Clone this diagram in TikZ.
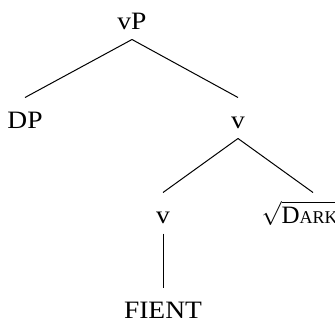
\documentclass[tikz,border=0pt]{standalone}
\usepackage{fontspec}
\setmainfont{Liberation Serif}[FakeStretch=1.1]
\newfontfamily\plainserif{Liberation Serif}
\usepackage{amssymb}

\begin{document}
\begin{tikzpicture}[x=0.5pt, y=-0.5pt, line width=0.5pt,
  every node/.style={font=\fontsize{12.5}{15}\selectfont, text height=12pt, text depth=2pt, inner sep=3pt}]
  \useasboundingbox (0,0) rectangle (335,321);
  \node[anchor=base] (vP) at (132,29) {vP};
  \node[anchor=base] (DP) at (25,128) {DP};
  \node[anchor=base] (v) at (238,128) {v};
  \node[anchor=base] (vlow) at (163,223) {v};
  \node[anchor=base west, inner xsep=0pt] (dark) at (261,223) {$\sqrt{\mbox{\plainserif D{\fontsize{9}{12}\selectfont ARK}}}$};
  \node[anchor=base] (fient) at (163,318) {FIENT};
  \path
  (vP.south) edge (DP.north)
  edge (v.north)
  (v.south) edge (vlow.north)
  edge ([xshift=26pt]dark.north west)
  (vlow.south) edge (fient.north)
;
\end{tikzpicture}
\end{document}
